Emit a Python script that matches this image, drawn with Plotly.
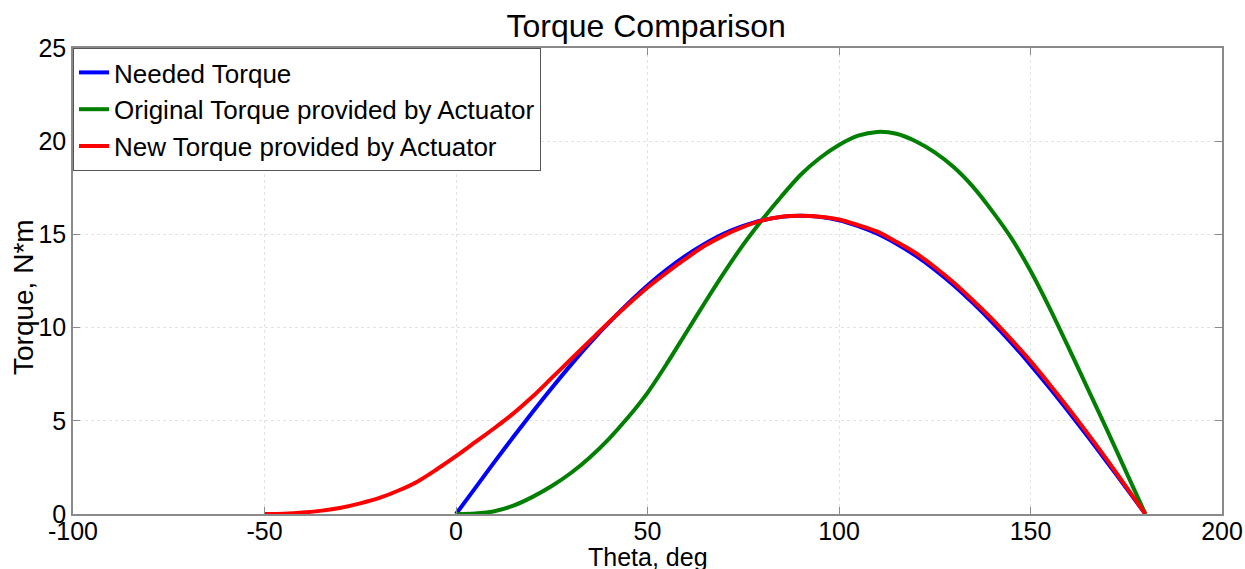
import plotly.graph_objects as go

# Needed torque (theta in deg, torque in N*m)
theta_needed = [0, 5, 10, 15, 20, 25, 30, 35, 40, 45, 50, 55, 60, 65, 70, 75, 80, 85, 90,
                95, 100, 105, 110, 115, 120, 125, 130, 135, 140, 145, 150, 155, 160, 165, 170, 175, 180]
torque_needed = [0, 1.39, 2.78, 4.14, 5.47, 6.76, 8.0, 9.18, 10.28, 11.31, 12.26, 13.11, 13.86, 14.5, 15.04, 15.45, 15.76, 15.94, 16.0,
                 15.94, 15.76, 15.45, 15.04, 14.5, 13.86, 13.11, 12.26, 11.31, 10.28, 9.18, 8.0, 6.76, 5.47, 4.14, 2.78, 1.39, 0]

# Original torque provided by actuator
theta_orig = [0, 5, 10, 15, 20, 25, 30, 35, 40, 45, 50, 55, 60, 65, 70, 75, 80, 85, 90,
              95, 100, 105, 110, 115, 120, 125, 130, 135, 140, 145, 150, 155, 160, 165, 170, 175, 180]
torque_orig = [0, 0.03, 0.15, 0.45, 0.92, 1.5, 2.2, 3.05, 4.05, 5.2, 6.5, 8.05, 9.7, 11.35, 12.95, 14.45, 15.8, 17.05, 18.2,
               19.1, 19.8, 20.3, 20.5, 20.4, 20.0, 19.4, 18.6, 17.55, 16.25, 14.8, 13.05, 11.05, 8.9, 6.7, 4.5, 2.25, 0]

# New torque provided by actuator
theta_new = [-50, -45, -40, -35, -30, -25, -20, -15, -10, -5, 0, 5, 10, 15, 20, 25, 30, 35, 40, 45, 50, 55, 60, 65,
             70, 75, 80, 85, 90, 95, 100, 105, 110, 115, 120, 125, 130, 135, 140, 145, 150, 155, 160, 165, 170, 175, 180]
torque_new = [0, 0.02, 0.08, 0.18, 0.34, 0.57, 0.86, 1.26, 1.75, 2.4, 3.1, 3.85, 4.6, 5.4, 6.3, 7.3, 8.3, 9.3, 10.3, 11.25, 12.15, 12.95, 13.7, 14.4,
              14.95, 15.4, 15.75, 15.95, 16.0, 15.95, 15.8, 15.5, 15.15, 14.6, 14.0, 13.25, 12.4, 11.45, 10.45, 9.35, 8.2, 6.95, 5.65, 4.3, 2.9, 1.45, 0]

x_ticks = [-100, -50, 0, 50, 100, 150, 200]
x_tick_text = ["-100", "-50", "0", "50", "100", "150", "200"]
y_ticks = [0, 5, 10, 15, 20, 25]
y_tick_text = ["0", "5", "10", "15", "20", "25"]

font = "Liberation Sans, Arial, sans-serif"

fig = go.Figure()
fig.add_trace(go.Scatter(x=theta_needed, y=torque_needed, mode="lines", name="Needed Torque",
                         line=dict(color="#0000ff", width=4, shape="spline", smoothing=0.8)))
fig.add_trace(go.Scatter(x=theta_orig, y=torque_orig, mode="lines", name="Original Torque provided by Actuator",
                         line=dict(color="#007f00", width=4, shape="spline", smoothing=0.8)))
fig.add_trace(go.Scatter(x=theta_new, y=torque_new, mode="lines", name="New Torque provided by Actuator",
                         line=dict(color="#ff0000", width=4, shape="spline", smoothing=0.8)))

axis_common = dict(
    showline=True, linecolor="#8a8a8a", linewidth=1.5, mirror="ticks",
    ticks="inside", ticklen=7, tickcolor="#8a8a8a",
    showgrid=True, gridcolor="#e3e3e3", griddash="dot", gridwidth=1,
    zeroline=False, automargin=False,
    tickfont=dict(family=font, size=25, color="black"),
)

fig.update_layout(
    width=1245, height=569,
    margin=dict(l=73, r=23, t=48, b=55),
    paper_bgcolor="white", plot_bgcolor="white",
    title=dict(text="Torque Comparison", x=0.519, xanchor="center", y=0.955, yanchor="middle",
               font=dict(family=font, size=32, color="black")),
    xaxis=dict(range=[-100, 200], tickvals=x_ticks, ticktext=x_tick_text, ticklabelstandoff=-6,
               **axis_common),
    yaxis=dict(range=[0, 25], tickvals=y_ticks, ticktext=y_tick_text,
               **axis_common),
    legend=dict(x=0, y=1, xanchor="left", yanchor="top", bgcolor="white",
                bordercolor="#555555", borderwidth=1,
                font=dict(family=font, size=26, color="black"),
                tracegroupgap=0, itemwidth=30),
    showlegend=True,
    annotations=[
        dict(text="Theta, deg", xref="paper", yref="paper", x=0.5, y=-(557 - 514) / 466,
             xanchor="center", yanchor="middle", showarrow=False,
             font=dict(family=font, size=25, color="black")),
        dict(text="Torque, N*m", xref="paper", yref="paper", x=-(73 - 23) / 1149, y=(514 - 297) / 466,
             xanchor="center", yanchor="middle", showarrow=False, textangle=-90,
             font=dict(family=font, size=28, color="black")),
    ],
)

fig.write_html("out.html")
